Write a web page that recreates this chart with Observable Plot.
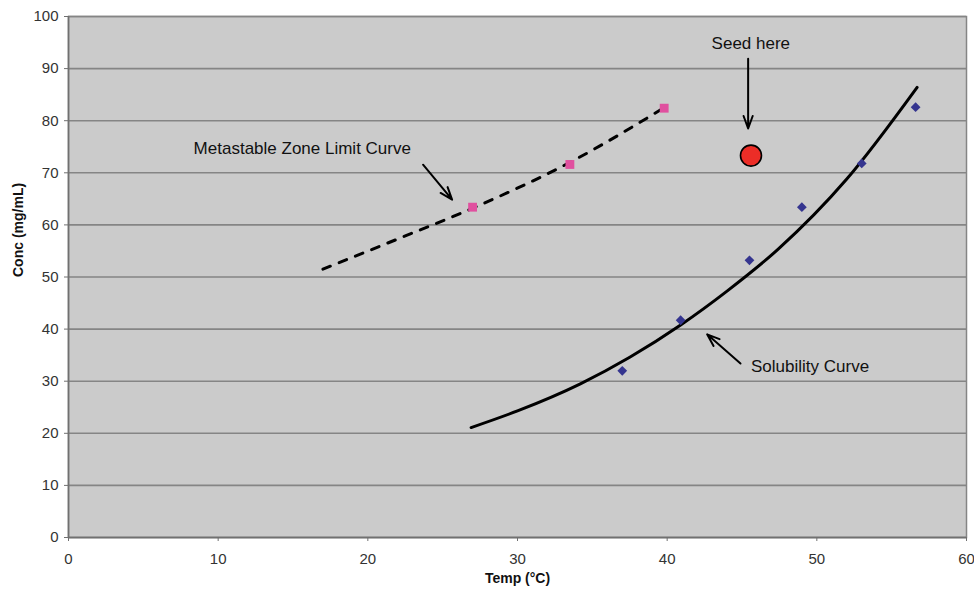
<!DOCTYPE html>
<html>
<head>
<meta charset="utf-8">
<script src="https://cdn.jsdelivr.net/npm/d3@7"></script>
<script src="https://cdn.jsdelivr.net/npm/@observablehq/plot@0.6"></script>
<style>
  html, body { margin: 0; padding: 0; background: #ffffff; }
  #chart { width: 974px; height: 590px; }
</style>
</head>
<body>
<div id="chart"></div>
<script>
// ---- data ----
const xTicks = [0, 10, 20, 30, 40, 50, 60];
const yTicks = [0, 10, 20, 30, 40, 50, 60, 70, 80, 90, 100];

// Metastable zone limit measurements (pink squares)
const metaTemp = [27.0, 33.5, 39.8];
const metaConc = [63.4, 71.6, 82.4];

// Solubility measurements (blue diamonds)
const solTemp = [37.0, 40.9, 45.5, 49.0, 53.0, 56.6];
const solConc = [32.0, 41.7, 53.2, 63.4, 71.8, 82.6];

// Dashed metastable trend curve
const metaCurveTemp = [17.0, 22.0, 27.0, 33.5, 39.8];
const metaCurveConc = [51.5, 57.3, 63.2, 72.0, 82.5];

// Solid solubility trend curve
const solCurveTemp = [26.9, 30.0, 34.2, 37.5, 40.9, 44.0, 47.4, 52.0, 56.7];
const solCurveConc = [21.1, 24.3, 29.5, 34.6, 40.8, 47.3, 55.3, 68.8, 86.4];

// Seed point
const seedTemp = [45.6];
const seedConc = [73.3];

// Annotations
const labelText = ["Seed here", "Metastable Zone Limit Curve", "Solubility Curve"];
const labelTemp = [45.59, 8.36, 45.6];
const labelConc = [94.9, 74.6, 32.8];
const labelAnchor = ["middle", "start", "start"];

const arrowT1 = [45.41, 23.69, 44.90];
const arrowC1 = [91.9, 71.55, 33.4];
const arrowT2 = [45.41, 25.63, 42.67];
const arrowC2 = [78.5, 64.84, 39.0];

// ---- build tables ----
const zip = (a, b) => a.map((v, i) => ({x: v, y: b[i]}));
const metaPts = zip(metaTemp, metaConc);
const solPts = zip(solTemp, solConc);
const metaCurve = zip(metaCurveTemp, metaCurveConc);
const solCurve = zip(solCurveTemp, solCurveConc);
const seed = zip(seedTemp, seedConc);
const labels = labelText.map((t, i) => ({text: t, x: labelTemp[i], y: labelConc[i], anchor: labelAnchor[i]}));
const arrows = arrowT1.map((v, i) => ({x1: v, y1: arrowC1[i], x2: arrowT2[i], y2: arrowC2[i]}));

const font = "'Liberation Sans', Arial, Helvetica, sans-serif";

const chart = Plot.plot({
  width: 974,
  height: 590,
  marginLeft: 68,
  marginRight: 8,
  marginTop: 16,
  marginBottom: 53,
  style: {fontFamily: font, background: "#ffffff", overflow: "visible"},
  x: {domain: [0, 60]},
  y: {domain: [0, 100]},
  marks: [
    Plot.frame({fill: "#cbcbcb", stroke: "#858585", strokeWidth: 1.5}),
    Plot.ruleY(yTicks, {stroke: "#858585", strokeWidth: 1.6}),
    Plot.ruleX([0], {stroke: "#707070", strokeWidth: 1.6}),
    Plot.ruleY([0], {stroke: "#707070", strokeWidth: 1.6}),
    Plot.axisX({ticks: xTicks, tickSize: 4, tickPadding: 12, fontSize: 15, stroke: "#707070", fill: "#333", label: null}),
    Plot.axisY({ticks: yTicks, tickSize: 4, tickPadding: 6, fontSize: 15, stroke: "#707070", fill: "#333", label: null}),
    Plot.text(["Temp (°C)"], {frameAnchor: "bottom", dy: 45.5, fontSize: 14, fontWeight: "bold", fill: "#111"}),
    Plot.text(["Conc (mg/mL)"], {frameAnchor: "left", dx: -50, rotate: -90, fontSize: 14, fontWeight: "bold", fill: "#111"}),
    Plot.line(metaCurve, {x: "x", y: "y", curve: "monotone-x", stroke: "#000", strokeWidth: 3, strokeDasharray: "8,9.5"}),
    Plot.line(solCurve, {x: "x", y: "y", curve: "monotone-x", stroke: "#000", strokeWidth: 3}),
    Plot.dot(metaPts, {x: "x", y: "y", symbol: "square", r: 5, fill: "#e0509f", stroke: "none"}),
    Plot.dot(solPts, {x: "x", y: "y", symbol: "diamond2", r: 4.4, fill: "#35358f", stroke: "none"}),
    Plot.dot(seed, {x: "x", y: "y", r: 10.5, fill: "#ec2d27", stroke: "#000", strokeWidth: 1.6}),
    Plot.arrow(arrows, {x1: "x1", y1: "y1", x2: "x2", y2: "y2", stroke: "#000", strokeWidth: 2, headLength: 10, headAngle: 40}),
    Plot.text(labels.filter(d => d.anchor === "middle"), {x: "x", y: "y", text: "text", textAnchor: "middle", fontSize: 17, fill: "#111"}),
    Plot.text(labels.filter(d => d.anchor === "start"), {x: "x", y: "y", text: "text", textAnchor: "start", fontSize: 17, fill: "#111"})
  ]
});

document.getElementById("chart").appendChild(chart);
</script>
</body>
</html>
